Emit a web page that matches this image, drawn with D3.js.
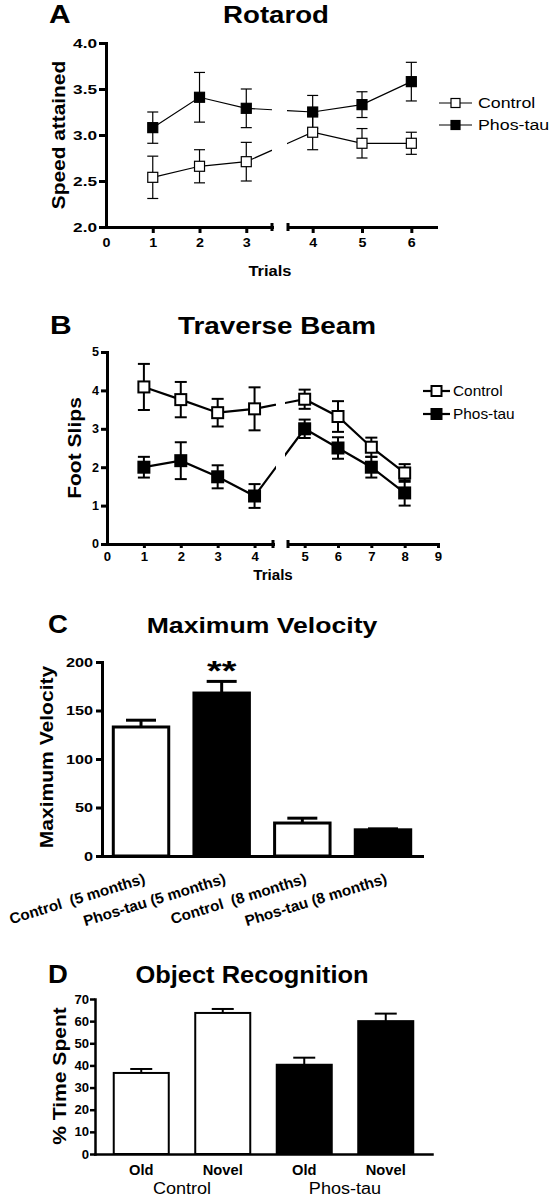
<!DOCTYPE html>
<html>
<head>
<meta charset="utf-8">
<script src="https://cdn.jsdelivr.net/npm/d3@7"></script>
<style>
  html, body { margin: 0; padding: 0; background: #fff; }
  svg { display: block; }
  text { font-family: "Liberation Sans", Arial, Helvetica, sans-serif; fill: #000; white-space: pre; }
</style>
</head>
<body>
<svg id="chart" width="551" height="1199"></svg>
<script>
// ---------------- DATA ----------------
// Panel A: Rotarod
const rotarodTrials = [1, 2, 3, 4, 5, 6];
const rotarodControl = [2.54, 2.66, 2.71, 3.03, 2.91, 2.91];
const rotarodControlErr = [0.23, 0.18, 0.21, 0.19, 0.16, 0.12];
const rotarodPhos = [3.08, 3.41, 3.29, 3.25, 3.33, 3.58];
const rotarodPhosErr = [0.17, 0.27, 0.21, 0.18, 0.14, 0.21];
const rotarodYTicks = [2.0, 2.5, 3.0, 3.5, 4.0];
const rotarodXTicks1 = [0, 1, 2, 3];
const rotarodXTicks2 = [4, 5, 6];

// Panel B: Traverse Beam
const beamTrials = [1, 2, 3, 4, 5, 6, 7, 8];
const beamControl = [4.09, 3.76, 3.42, 3.52, 3.77, 3.32, 2.52, 1.85];
const beamControlErr = [0.60, 0.46, 0.36, 0.56, 0.25, 0.40, 0.25, 0.23];
const beamPhos = [2.00, 2.17, 1.75, 1.25, 3.00, 2.50, 2.00, 1.33];
const beamPhosErr = [0.27, 0.48, 0.30, 0.31, 0.24, 0.28, 0.27, 0.33];
const beamYTicks = [0, 1, 2, 3, 4, 5];
const beamXTicks1 = [0, 1, 2, 3, 4];
const beamXTicks2 = [5, 6, 7, 8, 9];

// Panel C: Maximum Velocity
const velCategories = ["Control  (5 months)", "Phos-tau (5 months)", "Control  (8 months)", "Phos-tau (8 months)"];
const velGroups = ["Control", "Phos-tau", "Control", "Phos-tau"];
const velValues = [133, 168, 34, 27];
const velErr = [7, 12, 5, 1];
const velYTicks = [0, 50, 100, 150, 200];
const velSignificance = ["", "**", "", ""];

// Panel D: Object Recognition
const objCategories = ["Control-Old", "Control-Novel", "Phos-tau-Old", "Phos-tau-Novel"];
const objLabels = ["Old", "Novel", "Old", "Novel"];
const objGroups = ["Control", "Control", "Phos-tau", "Phos-tau"];
const objGroupNames = ["Control", "Phos-tau"];
const objValues = [36.6, 63.7, 40.3, 60.0];
const objErr = [1.8, 1.8, 3.2, 3.4];
const objYTicks = [0, 10, 20, 30, 40, 50, 60, 70];

const seriesNames = ["Control", "Phos-tau"];
const fillOf = g => g === "Control" ? "#fff" : "#000";

// ---------------- HELPERS ----------------
const svg = d3.select("#chart");

function label(g, x, y, s, o = {}) {
  return g.append("text")
    .attr("transform", `translate(${x},${y}) rotate(${o.rot || 0}) scale(${o.sx || 1},1)`)
    .attr("text-anchor", o.anchor || "middle")
    .attr("font-size", o.size || 12)
    .attr("font-weight", o.weight || "bold")
    .text(s);
}

function styleAxis(ax, width, fontSize, sx, tickLen, pad, orient) {
  ax.select(".domain").attr("stroke", "#000").attr("stroke-width", width).attr("stroke-linecap", "square");
  ax.selectAll(".tick line").attr("stroke", "#000").attr("stroke-width", width);
  const t = ax.selectAll(".tick text")
    .attr("font-size", fontSize).attr("font-weight", "bold")
    .attr("font-family", '"Liberation Sans", Arial, sans-serif').attr("fill", "#000")
    .attr("transform", `scale(${sx},1)`);
  if (orient === "left") t.attr("x", -(tickLen + pad) / sx);
}

// Line chart panel with broken x axis
function brokenLinePanel(cfg) {
  const g = svg.append("g");
  const y = d3.scaleLinear().domain(cfg.yDomain).range(cfg.yRange);
  const x1 = d3.scaleLinear().domain(cfg.x1Domain).range(cfg.x1Range);
  const x2 = d3.scaleLinear().domain(cfg.x2Domain).range(cfg.x2Range);
  const x = v => v < cfg.brk ? x1(v) : x2(v);
  const y0 = cfg.yRange[0];

  // axes
  const ay = g.append("g").attr("transform", `translate(${cfg.x1Range[0]},0)`)
    .call(d3.axisLeft(y).tickValues(cfg.yTicks).tickFormat(cfg.yFormat).tickSize(cfg.yTickLen).tickSizeOuter(0).tickPadding(cfg.yPad));
  styleAxis(ay, cfg.axisW, cfg.yFont, cfg.ySx, cfg.yTickLen, cfg.yPad, "left");
  const ax1 = g.append("g").attr("transform", `translate(0,${y0})`)
    .call(d3.axisBottom(x1).tickValues(cfg.xTicks1).tickFormat(d3.format("d")).tickSize(cfg.xTickLen).tickSizeOuter(0).tickPadding(cfg.xPad));
  styleAxis(ax1, cfg.axisW, cfg.xFont, cfg.xSx);
  ax1.selectAll(".tick").filter(d => d === 0).select("line").remove();
  const ax2 = g.append("g").attr("transform", `translate(0,${y0})`)
    .call(d3.axisBottom(x2).tickValues(cfg.xTicks2).tickFormat(d3.format("d")).tickSize(cfg.xTickLen).tickSizeOuter(0).tickPadding(cfg.xPad));
  styleAxis(ax2, cfg.axisW, cfg.xFont, cfg.xSx);
  // break caps
  [x1.range()[1], x2.range()[0]].forEach(cx => {
    g.append("line").attr("x1", cx).attr("x2", cx).attr("y1", y0 - cfg.capH).attr("y2", y0 + cfg.capH)
      .attr("stroke", "#000").attr("stroke-width", cfg.axisW);
  });

  // clip paths for the two segments
  const id = cfg.id;
  const defs = g.append("defs");
  defs.append("clipPath").attr("id", id + "c1").append("rect")
    .attr("x", 0).attr("y", 0).attr("width", cfg.clip1).attr("height", 1199);
  defs.append("clipPath").attr("id", id + "c2").append("rect")
    .attr("x", cfg.clip2).attr("y", 0).attr("width", 551 - cfg.clip2).attr("height", 1199);

  const series = [
    { name: "Control", v: cfg.control, e: cfg.controlErr },
    { name: "Phos-tau", v: cfg.phos, e: cfg.phosErr }
  ];
  const line = d3.line().x(d => x(d.t)).y(d => y(d.v));
  series.forEach(s => {
    const pts = cfg.trials.map((t, i) => ({ t, v: s.v[i], e: s.e[i] }));
    ["c1", "c2"].forEach(c => {
      g.append("path").attr("clip-path", `url(#${id}${c})`).datum(pts)
        .attr("d", line).attr("fill", "none").attr("stroke", "#000").attr("stroke-width", cfg.lineW);
    });
    const eb = g.append("g");
    pts.forEach(p => {
      const cx = x(p.t);
      eb.append("line").attr("x1", cx).attr("x2", cx).attr("y1", y(p.v + p.e)).attr("y2", y(p.v - p.e))
        .attr("stroke", "#000").attr("stroke-width", cfg.errW);
      [p.v + p.e, p.v - p.e].forEach(v => eb.append("line")
        .attr("x1", cx - cfg.capW / 2).attr("x2", cx + cfg.capW / 2).attr("y1", y(v)).attr("y2", y(v))
        .attr("stroke", "#000").attr("stroke-width", cfg.errW));
    });
  });
  series.forEach(s => {
    cfg.trials.forEach((t, i) => {
      g.append("rect").attr("x", x(t) - cfg.mk / 2).attr("y", y(s.v[i]) - cfg.mk / 2)
        .attr("width", cfg.mk).attr("height", cfg.mk)
        .attr("fill", fillOf(s.name)).attr("stroke", "#000").attr("stroke-width", cfg.mkStroke);
    });
  });

  // legend
  seriesNames.forEach((n, i) => {
    const ly = cfg.legY + i * cfg.legDy;
    g.append("line").attr("x1", cfg.legX0).attr("x2", cfg.legX1).attr("y1", ly).attr("y2", ly)
      .attr("stroke", "#000").attr("stroke-width", cfg.lineW);
    const mx = (cfg.legX0 + cfg.legX1) / 2;
    g.append("rect").attr("x", mx - cfg.legMk / 2).attr("y", ly - cfg.legMk / 2)
      .attr("width", cfg.legMk).attr("height", cfg.legMk)
      .attr("fill", fillOf(n)).attr("stroke", "#000").attr("stroke-width", cfg.mkStroke);
    label(g, cfg.legX1 + cfg.legGap, ly + cfg.legFont * 0.36, n,
      { anchor: "start", size: cfg.legFont, weight: "normal", sx: cfg.legSx });
  });

  // titles
  label(g, cfg.letterX, cfg.titleY, cfg.letter, { anchor: "start", size: 25, sx: 1.2 });
  label(g, cfg.titleX, cfg.titleY, cfg.title, { size: 24, sx: cfg.titleSx });
  label(g, cfg.xLabX, cfg.xLabY, "Trials", { size: cfg.xLabSize, sx: cfg.xLabSx });
  label(g, cfg.yLabX, (cfg.yRange[0] + cfg.yRange[1]) / 2, cfg.yLabel, { size: 18, rot: -90, sx: cfg.yLabSx });
  return g;
}

// ---------------- PANEL A ----------------
brokenLinePanel({
  id: "A", letter: "A", title: "Rotarod", titleX: 276, titleY: 23, titleSx: 1.15,
  yDomain: [2, 4], yRange: [227, 43], brk: 3.5,
  x1Domain: [0, 3.55], x1Range: [106, 272], x2Domain: [3.5, 6.5], x2Range: [288, 436],
  yTicks: rotarodYTicks, yFormat: d3.format(".1f"), yTickLen: 7, yPad: 2, yFont: 12.5, ySx: 1.38,
  xTicks1: rotarodXTicks1, xTicks2: rotarodXTicks2, xTickLen: 6, xPad: 5, xFont: 13, xSx: 1.1,
  axisW: 3, capH: 4, clip1: 272, clip2: 287,
  trials: rotarodTrials, control: rotarodControl, controlErr: rotarodControlErr,
  phos: rotarodPhos, phosErr: rotarodPhosErr,
  lineW: 1.2, errW: 1.2, capW: 11, mk: 10, mkStroke: 1.2,
  legX0: 439, legX1: 472, legY: 103, legDy: 22, legMk: 9, legGap: 6, legFont: 14, legSx: 1.27,
  letterX: 49, xLabX: 270, xLabY: 276, xLabSize: 15, xLabSx: 1.1,
  yLabX: 65, yLabel: "Speed attained", yLabSx: 1.16
});

// ---------------- PANEL B ----------------
brokenLinePanel({
  id: "B", letter: "B", title: "Traverse Beam", titleX: 277, titleY: 334, titleSx: 1.16,
  yDomain: [0, 5], yRange: [544, 352], brk: 4.5,
  x1Domain: [0, 4.5], x1Range: [107, 273], x2Domain: [4.5, 9], x2Range: [288, 438],
  yTicks: beamYTicks, yFormat: d3.format("d"), yTickLen: 6, yPad: 2, yFont: 12, ySx: 1.05,
  xTicks1: beamXTicks1, xTicks2: beamXTicks2, xTickLen: 4, xPad: 4, xFont: 12.5, xSx: 1.05,
  axisW: 3, capH: 4, clip1: 276, clip2: 285,
  trials: beamTrials, control: beamControl, controlErr: beamControlErr,
  phos: beamPhos, phosErr: beamPhosErr,
  lineW: 2.2, errW: 2, capW: 12, mk: 11, mkStroke: 2,
  legX0: 423, legX1: 450, legY: 391, legDy: 23, legMk: 10, legGap: 3, legFont: 14, legSx: 1.1,
  letterX: 50, xLabX: 273, xLabY: 580, xLabSize: 14, xLabSx: 1.08,
  yLabX: 81, yLabel: "Foot Slips", yLabSx: 1.17
});

// ---------------- PANEL C ----------------
(function () {
  const g = svg.append("g");
  const y = d3.scaleLinear().domain([0, 200]).range([856, 662]);
  const x = d3.scaleBand().domain(velCategories).range([102, 422]).paddingInner(0.3125).paddingOuter(0.14);
  const ay = g.append("g").attr("transform", `translate(${x.range()[0]},0)`)
    .call(d3.axisLeft(y).tickValues(velYTicks).tickSize(6).tickSizeOuter(0).tickPadding(3));
  styleAxis(ay, 3, 12.5, 1.3, 6, 3, "left");
  const ax = g.append("g").attr("transform", `translate(0,${y(0)})`)
    .call(d3.axisBottom(x).tickSize(0).tickSizeOuter(0).tickFormat(""));
  styleAxis(ax, 3, 12, 1);

  velCategories.forEach((c, i) => {
    const cx = x(c) + x.bandwidth() / 2;
    g.append("line").attr("x1", cx).attr("x2", cx).attr("y1", y(velValues[i])).attr("y2", y(velValues[i] + velErr[i]))
      .attr("stroke", "#000").attr("stroke-width", 3);
    g.append("line").attr("x1", cx - 15).attr("x2", cx + 15)
      .attr("y1", y(velValues[i] + velErr[i])).attr("y2", y(velValues[i] + velErr[i]))
      .attr("stroke", "#000").attr("stroke-width", 3);
    g.append("rect").attr("x", x(c)).attr("y", y(velValues[i]))
      .attr("width", x.bandwidth()).attr("height", y(0) - y(velValues[i]))
      .attr("fill", fillOf(velGroups[i])).attr("stroke", "#000").attr("stroke-width", 3);
    if (velSignificance[i]) label(g, cx, y(velValues[i] + velErr[i]) - 1, velSignificance[i], { size: 28, sx: 1.35 });
    label(g, cx + 5, 883, c, { anchor: "end", size: 15, rot: -17, sx: 1.02 });
  });

  label(g, 48, 633, "C", { anchor: "start", size: 25, sx: 1.1 });
  label(g, 262, 633, "Maximum Velocity", { size: 22, sx: 1.21 });
  label(g, 53, 757, "Maximum Velocity", { size: 18, rot: -90, sx: 1.17 });
})();

// ---------------- PANEL D ----------------
(function () {
  const g = svg.append("g");
  const y = d3.scaleLinear().domain([0, 70]).range([1154, 999]);
  const x = d3.scaleBand().domain(objCategories).range([95, 432]).paddingInner(0.325).paddingOuter(0.23);
  const ay = g.append("g").attr("transform", `translate(${x.range()[0]},0)`)
    .call(d3.axisLeft(y).tickValues(objYTicks).tickSize(5).tickSizeOuter(0).tickPadding(1));
  styleAxis(ay, 2.5, 12.5, 1.05, 5, 1, "left");
  const ax = g.append("g").attr("transform", `translate(0,${y(0)})`)
    .call(d3.axisBottom(x).tickSize(0).tickSizeOuter(0).tickFormat(""));
  styleAxis(ax, 2.5, 12, 1);

  objCategories.forEach((c, i) => {
    const cx = x(c) + x.bandwidth() / 2;
    g.append("line").attr("x1", cx).attr("x2", cx).attr("y1", y(objValues[i])).attr("y2", y(objValues[i] + objErr[i]))
      .attr("stroke", "#000").attr("stroke-width", 2);
    g.append("line").attr("x1", cx - 11).attr("x2", cx + 11)
      .attr("y1", y(objValues[i] + objErr[i])).attr("y2", y(objValues[i] + objErr[i]))
      .attr("stroke", "#000").attr("stroke-width", 2);
    g.append("rect").attr("x", x(c)).attr("y", y(objValues[i]))
      .attr("width", x.bandwidth()).attr("height", y(0) - y(objValues[i]))
      .attr("fill", fillOf(objGroups[i])).attr("stroke", "#000").attr("stroke-width", 2);
    label(g, cx, 1175, objLabels[i], { size: 14, sx: 1.05 });
  });
  objGroupNames.forEach(n => {
    const members = objCategories.filter((c, i) => objGroups[i] === n);
    const cx = (x(members[0]) + x(members[members.length - 1]) + x.bandwidth()) / 2;
    label(g, cx, 1194, n, { size: 16, weight: "normal", sx: 1.13 });
  });

  label(g, 48, 983, "D", { anchor: "start", size: 25, sx: 1.1 });
  label(g, 252, 983, "Object Recognition", { size: 24, sx: 1.06 });
  label(g, 66, 1076, "% Time Spent", { size: 18, rot: -90, sx: 1.17 });
})();
</script>
</body>
</html>
